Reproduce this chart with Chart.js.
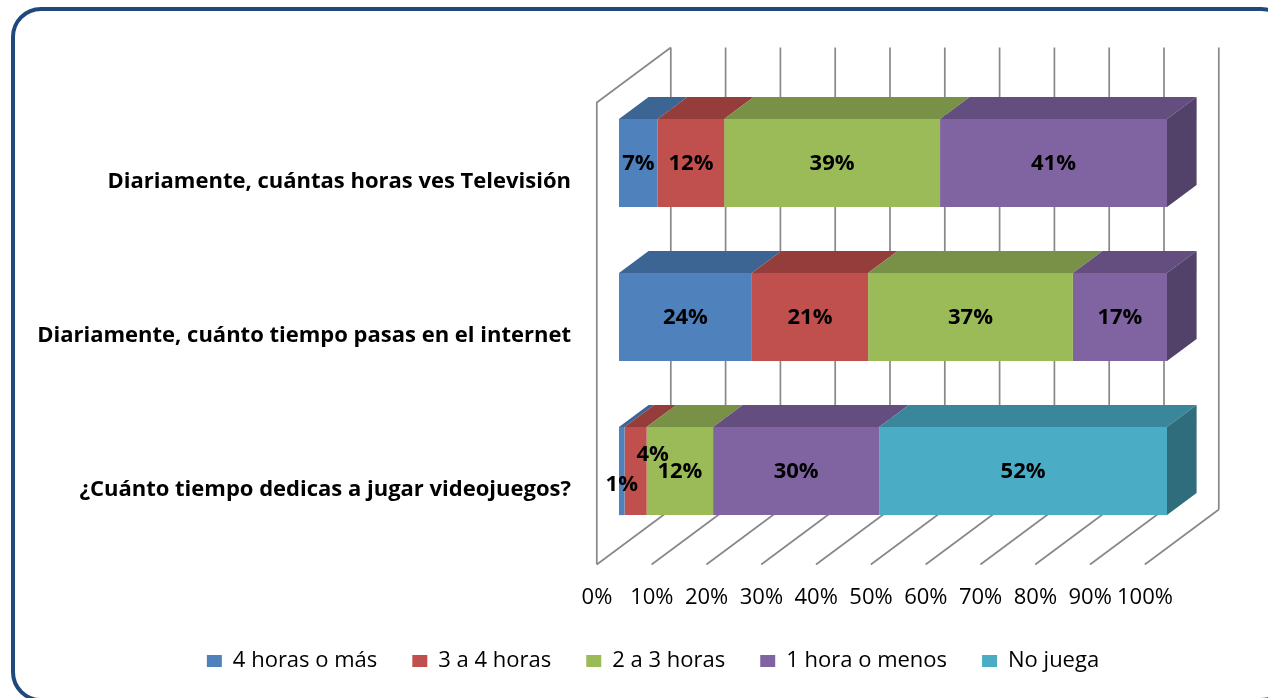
<!DOCTYPE html>
<html>
<head>
<meta charset="utf-8">
<script src="https://cdn.jsdelivr.net/npm/chart.js@4.4.1/dist/chart.umd.min.js"></script>
<style>
  body { margin: 0; background: #fff; overflow: hidden; }
  .frame {
    position: absolute; left: 11px; top: 7px; width: 1280px; height: 695px;
    box-sizing: border-box; border: 4px solid #1F497D; border-radius: 30px;
  }
  #chart { position: absolute; left: 0; top: 0; }
</style>
</head>
<body>
<div class="frame"></div>
<canvas id="chart" width="1268" height="698"></canvas>
<script>
const categories = [
    'Diariamente, cuántas horas ves Televisión',
    'Diariamente, cuánto tiempo pasas en el internet',
    '¿Cuánto tiempo dedicas a jugar videojuegos?'
];
const seriesNames = ['4 horas o más', '3 a 4 horas', '2 a 3 horas', '1 hora o menos', 'No juega'];

// percentages as printed on the bars
const horas4 = [7, 24, 1];
const horas3a4 = [12, 21, 4];
const horas2a3 = [39, 37, 12];
const hora1 = [41, 17, 30];
const noJuega = [0, 0, 52];

const xTicks = [0, 10, 20, 30, 40, 50, 60, 70, 80, 90, 100];

const frontColors = ['#4F81BD', '#C0504D', '#9BBB59', '#8064A2', '#4BACC6'];
const topColors = ['#3D6593', '#953D3B', '#789147', '#634E7F', '#3A869A'];
const sideColors = ['#34567E', '#7E3331', '#667B3C', '#524169', '#2F6D7D'];

const series = [horas4, horas3a4, horas2a3, hora1, noJuega];
const rowTotals = categories.map((_, i) => series.reduce((s, arr) => s + arr[i], 0));

const FONT = "'Open Sans', 'Noto Sans', sans-serif";

// 3D geometry: depth vector from front plane to back wall
const DEPTH = { x: 74, y: -55 };
const FRONT = 0.3, BACK = 0.7, BAR = 0.4;

// small nudges for labels that do not fit inside their segment
const labelNudge = { '0-2': { x: 0, y: 13 }, '1-2': { x: 17, y: -17 } };

const wallsPlugin = {
    id: 'walls',
    beforeDatasetsDraw(chart) {
        const { ctx, chartArea: a, scales: { x } } = chart;
        const fx = -FRONT * DEPTH.x, fy = -FRONT * DEPTH.y;
        const bx = BACK * DEPTH.x, by = BACK * DEPTH.y;
        ctx.save();
        ctx.strokeStyle = '#888888';
        ctx.lineWidth = 1.7;
        ctx.beginPath();
        xTicks.forEach(v => {
            const px = x.getPixelForValue(v);
            // back wall
            ctx.moveTo(px + bx, a.top + by);
            ctx.lineTo(px + bx, a.bottom + by);
            // floor
            ctx.moveTo(px + fx, a.bottom + fy);
            ctx.lineTo(px + bx, a.bottom + by);
        });
        const x0 = x.getPixelForValue(0);
        // side wall
        ctx.moveTo(x0 + fx, a.bottom + fy);
        ctx.lineTo(x0 + fx, a.top + fy);
        ctx.lineTo(x0 + bx, a.top + by);
        ctx.stroke();
        ctx.restore();
    }
};

const barFacesPlugin = {
    id: 'barFaces',
    afterDatasetsDraw(chart) {
        const { ctx } = chart;
        const dx = BAR * DEPTH.x, dy = BAR * DEPTH.y;
        ctx.save();
        categories.forEach((_, i) => {
            let last = null;
            chart.data.datasets.forEach((ds, d) => {
                if (!ds.data[i]) return;
                const el = chart.getDatasetMeta(d).data[i];
                const { x, y, base, height } = el.getProps(['x', 'y', 'base', 'height'], true);
                const top = y - height / 2;
                ctx.fillStyle = topColors[d];
                ctx.beginPath();
                ctx.moveTo(base, top);
                ctx.lineTo(x, top);
                ctx.lineTo(x + dx, top + dy);
                ctx.lineTo(base + dx, top + dy);
                ctx.closePath();
                ctx.fill();
                last = { d, x, top, bottom: y + height / 2 };
            });
            if (last) {
                ctx.fillStyle = sideColors[last.d];
                ctx.beginPath();
                ctx.moveTo(last.x, last.top);
                ctx.lineTo(last.x + dx, last.top + dy);
                ctx.lineTo(last.x + dx, last.bottom + dy);
                ctx.lineTo(last.x, last.bottom);
                ctx.closePath();
                ctx.fill();
            }
        });

        // data labels
        ctx.font = 'bold 22px ' + FONT;
        ctx.fillStyle = '#000';
        ctx.textAlign = 'center';
        ctx.textBaseline = 'middle';
        chart.data.datasets.forEach((ds, d) => {
            chart.getDatasetMeta(d).data.forEach((el, i) => {
                const raw = series[d][i];
                if (!raw) return;
                const { x, y, base } = el.getProps(['x', 'y', 'base'], true);
                const n = labelNudge[d + '-' + i] || { x: 0, y: 0 };
                ctx.fillText(raw + '%', (x + base) / 2 + n.x, y + 1 + n.y);
            });
        });
        ctx.restore();
    }
};

new Chart(document.getElementById('chart'), {
    type: 'bar',
    data: {
        labels: categories,
        datasets: series.map((arr, d) => ({
            label: seriesNames[d],
            data: arr.map((v, i) => v / rowTotals[i] * 100),
            backgroundColor: frontColors[d],
            borderWidth: 0,
            barPercentage: 0.573,
            categoryPercentage: 1
        }))
    },
    options: {
        indexAxis: 'y',
        responsive: false,
        animation: false,
        layout: { padding: { top: 86, right: -10, bottom: 16, left: 28 } },
        plugins: {
            tooltip: { enabled: false },
            legend: {
                position: 'bottom',
                labels: {
                    boxWidth: 15,
                    boxHeight: 12,
                    padding: 35,
                    color: '#000',
                    font: { family: FONT, size: 22 }
                }
            }
        },
        scales: {
            x: {
                stacked: true,
                min: 0,
                max: 100,
                grid: { display: false, drawTicks: false },
                border: { display: false },
                afterBuildTicks: scale => { scale.ticks = xTicks.map(v => ({ value: v })); },
                afterFit: scale => { scale.height = 67; },
                ticks: {
                    autoSkip: false,
                    maxRotation: 0,
                    padding: 37,
                    labelOffset: -22,
                    color: '#000',
                    font: { family: FONT, size: 22 },
                    callback: v => v + '%'
                }
            },
            y: {
                stacked: true,
                grid: { display: false, drawTicks: false },
                border: { display: false },
                afterFit: scale => { scale.width = 591; },
                ticks: {
                    padding: 48,
                    labelOffset: 19,
                    color: '#000',
                    font: { family: FONT, size: 22, weight: 'bold' }
                }
            },
            // empty right axis: keeps room for the 3D depth of the box
            depth: {
                type: 'linear',
                position: 'right',
                grid: { display: false, drawTicks: false },
                border: { display: false },
                ticks: { display: false },
                afterFit: scale => { scale.width = 111; }
            }
        }
    },
    plugins: [wallsPlugin, barFacesPlugin]
});
</script>
</body>
</html>
